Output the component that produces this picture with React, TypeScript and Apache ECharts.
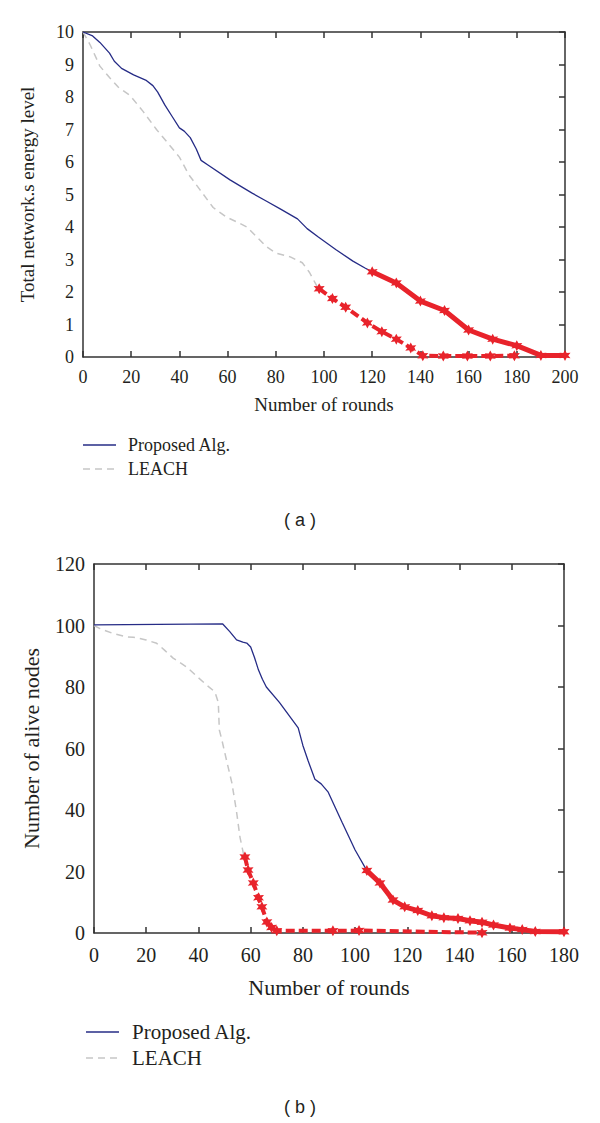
import React, { useEffect, useRef } from "react";
import * as echarts from "echarts";

// ---------- Chart (a): total network energy ----------
const roundsTicksA = [0, 20, 40, 60, 80, 100, 120, 140, 160, 180, 200];
const energyTicks = [0, 1, 2, 3, 4, 5, 6, 7, 8, 9, 10];

const proposedA: [number, number][] = [
  [0, 10], [4, 9.88], [7, 9.68], [11, 9.35], [13, 9.1], [16, 8.88], [21, 8.68],
  [26, 8.52], [29, 8.35], [31, 8.15], [34, 7.75], [37, 7.4], [40, 7.05], [42, 6.95],
  [44.5, 6.75], [47, 6.4], [49, 6.05], [52, 5.9], [61, 5.45], [70, 5.05], [76, 4.8],
  [82, 4.55], [89, 4.25], [93, 3.95], [97.5, 3.7], [105, 3.3], [112, 2.95], [117, 2.74],
  [120, 2.62],
];
const proposedAEnd: [number, number][] = [
  [120, 2.62], [130, 2.28], [140, 1.72], [150, 1.43], [160, 0.83], [170, 0.55],
  [180, 0.35], [190, 0.05], [200, 0.05],
];
const leachA: [number, number][] = [
  [0, 10], [3, 9.6], [7, 8.95], [11, 8.6], [14.7, 8.3], [19.5, 8.05], [25, 7.55],
  [30.5, 7.0], [35, 6.6], [40, 6.15], [44, 5.6], [48.5, 5.15], [54, 4.6], [59.6, 4.3],
  [64, 4.15], [68, 4.0], [72, 3.7], [76, 3.4], [80, 3.2], [86, 3.08], [91, 2.9],
  [94, 2.6], [97.5, 2.12],
];
const leachAEnd: [number, number][] = [
  [98, 2.1], [103.5, 1.8], [109, 1.53], [118, 1.05], [124, 0.78], [130, 0.55],
  [136, 0.28], [141, 0.04], [149.5, 0.03], [159.5, 0.03], [169, 0.03], [179, 0.04],
];

// ---------- Chart (b): alive nodes ----------
const roundsTicksB = [0, 20, 40, 60, 80, 100, 120, 140, 160, 180];
const nodesTicks = [0, 20, 40, 60, 80, 100, 120];

const proposedB: [number, number][] = [
  [0, 100.2], [49.3, 100.5], [52, 98], [54.6, 95.3], [57, 94.6], [58.5, 94.3], [60, 93],
  [61.5, 89.5], [63, 85.5], [64.5, 82.5], [66, 80], [71, 75], [78.2, 66.7], [80, 61],
  [82, 56], [84.6, 50], [87, 48.5], [89.7, 45.8], [95, 36], [100, 27], [104.5, 20.3],
];
const proposedBEnd: [number, number][] = [
  [104.5, 20.3], [109.5, 16.3], [114.5, 10.7], [119, 8.5], [124, 7.3], [129.4, 5.6],
  [134, 5.0], [139.4, 4.7], [144, 4.0], [148.6, 3.5], [153, 2.6], [159.3, 1.6],
  [164, 1.1], [169, 0.5], [180, 0.4],
];
const leachB: [number, number][] = [
  [0, 100], [2.3, 99], [7, 97.5], [12.4, 96.3], [15, 96.2], [20, 95.3], [24, 94.2],
  [27, 92], [30.3, 89.4], [35.5, 86.5], [40, 83], [43.2, 80.6], [46.3, 78.4],
  [47.6, 75], [48, 66], [49, 62.7], [50.8, 56], [52.8, 48.8], [54.5, 40], [55.9, 31.2],
  [57.5, 24.7],
];
const leachBEnd: [number, number][] = [
  [57.8, 24.7], [59, 20.5], [61, 16.3], [63, 11.5], [64.3, 8.5], [66.2, 3.6],
  [68, 1.8], [70, 0.7], [91.5, 0.7], [101.5, 0.8], [148.6, 0.1],
];

const legendNames = ["Proposed Alg.", "LEACH"];
const axisTitles = {
  xA: "Number of rounds",
  yA: "Total network.s energy level",
  xB: "Number of rounds",
  yB: "Number of alive nodes",
};
const captions = ["( a )", "( b )"];

const BLUE = "#262c86";
const GRAY = "#c6c6c6";
const RED = "#e8232b";
const AXIS = "#333333";
const TEXT = "#231f20";
const SERIF = "'Liberation Serif', 'DejaVu Serif', serif";
const SANS = "'Liberation Sans', Arial, sans-serif";
const STAR =
  "path://M0,-10 L2.6,-4.5 L8.7,-5 L5.2,0 L8.7,5 L2.6,4.5 L0,10 L-2.6,4.5 L-8.7,5 L-5.2,0 L-8.7,-5 L-2.6,-4.5 Z";

function mainX(gridIndex: number, max: number, fontSize: number, name: string, nameSize: number, nameGap: number, margin: number) {
  return {
    type: "value",
    gridIndex,
    position: "bottom",
    min: 0,
    max,
    interval: 20,
    name,
    nameLocation: "middle",
    nameGap,
    nameTextStyle: { fontFamily: SERIF, fontSize: nameSize, color: TEXT },
    axisLine: { show: true, onZero: false, lineStyle: { color: AXIS, width: 1.5 } },
    axisTick: { show: true, inside: true, length: 6, lineStyle: { color: AXIS, width: 1.5 } },
    axisLabel: { fontFamily: SERIF, fontSize, color: TEXT, margin },
    splitLine: { show: false },
  };
}
function mirrorX(gridIndex: number, max: number) {
  return {
    type: "value",
    gridIndex,
    position: "top",
    min: 0,
    max,
    interval: 20,
    axisLine: { show: true, onZero: false, lineStyle: { color: AXIS, width: 1.5 } },
    axisTick: { show: true, inside: true, length: 6, lineStyle: { color: AXIS, width: 1.5 } },
    axisLabel: { show: false },
    splitLine: { show: false },
  };
}
function mainY(gridIndex: number, max: number, interval: number, fontSize: number, name: string, nameSize: number, nameGap: number, margin: number) {
  return {
    type: "value",
    gridIndex,
    position: "left",
    min: 0,
    max,
    interval,
    name,
    nameLocation: "middle",
    nameGap,
    nameRotate: 90,
    nameTextStyle: { fontFamily: SERIF, fontSize: nameSize, color: TEXT },
    axisLine: { show: true, onZero: false, lineStyle: { color: AXIS, width: 1.5 } },
    axisTick: { show: false },
    axisLabel: { fontFamily: SERIF, fontSize, color: TEXT, margin },
    splitLine: { show: false },
  };
}
function mirrorY(gridIndex: number, max: number, interval: number) {
  return {
    type: "value",
    gridIndex,
    position: "right",
    min: 0,
    max,
    interval,
    axisLine: { show: true, onZero: false, lineStyle: { color: AXIS, width: 1.5 } },
    axisTick: { show: true, inside: true, length: 6, lineStyle: { color: AXIS, width: 1.5 } },
    axisLabel: { show: false },
    splitLine: { show: false },
  };
}

function baseLine(name: string, data: [number, number][], xi: number, yi: number, color: string, width: number, dashed: boolean) {
  return {
    type: "line",
    name,
    data,
    xAxisIndex: xi,
    yAxisIndex: yi,
    symbol: "none",
    showSymbol: false,
    smooth: false,
    lineStyle: { color, width, type: dashed ? [7, 5] : "solid" },
    itemStyle: { color },
    z: 2,
  };
}
function redLine(name: string, data: [number, number][], xi: number, yi: number, width: number, dashed: boolean) {
  return {
    type: "line",
    name,
    data,
    xAxisIndex: xi,
    yAxisIndex: yi,
    symbol: STAR,
    symbolSize: 11,
    showSymbol: true,
    lineStyle: { color: RED, width, type: dashed ? [9, 4] : "solid" },
    itemStyle: { color: RED, borderWidth: 0 },
    z: 3,
  };
}

// legend block drawn as graphic (line sample + label)
function legendBlock(x: number, y: number, gap: number, lineW: number, textX: number, fontSize: number) {
  return [
    {
      type: "line",
      shape: { x1: x, y1: y, x2: x + lineW, y2: y },
      style: { stroke: BLUE, lineWidth: 1.5 },
    },
    {
      type: "text",
      x: textX,
      y,
      style: { text: legendNames[0], fontFamily: SERIF, fontSize, fill: TEXT, textVerticalAlign: "middle" },
    },
    {
      type: "line",
      shape: { x1: x, y1: y + gap, x2: x + lineW, y2: y + gap },
      style: { stroke: GRAY, lineWidth: 1.5, lineDash: [7, 5] },
    },
    {
      type: "text",
      x: textX,
      y: y + gap,
      style: { text: legendNames[1], fontFamily: SERIF, fontSize, fill: TEXT, textVerticalAlign: "middle" },
    },
  ];
}

export default function App() {
  const ref = useRef<HTMLDivElement>(null);
  useEffect(() => {
    if (!ref.current) return;
    const chart = echarts.init(ref.current, undefined, { renderer: "svg" });
    chart.setOption({
      animation: false,
      backgroundColor: "#ffffff",
      grid: [
        { left: 83, top: 32, width: 482, height: 325, containLabel: false },
        { left: 94, top: 564, width: 470, height: 369, containLabel: false },
      ],
      xAxis: [
        mainX(0, 200, 18, axisTitles.xA, 19, 38, 11),
        mirrorX(0, 200),
        mainX(1, 180, 20, axisTitles.xB, 22, 43, 12),
        mirrorX(1, 180),
      ],
      yAxis: [
        mainY(0, 10, 1, 18, axisTitles.yA, 19, 46, 9),
        mirrorY(0, 10, 1),
        mainY(1, 120, 20, 20, axisTitles.yB, 22, 52, 9),
        mirrorY(1, 120, 20),
      ],
      graphic: [
        ...legendBlock(83, 445, 24, 33, 128, 18),
        ...legendBlock(86, 1032, 26, 33, 132, 21),
        {
          type: "text",
          x: 300,
          y: 520,
          style: {
            text: captions[0],
            fontFamily: SANS,
            fontSize: 18,
            fill: TEXT,
            textAlign: "center",
            textVerticalAlign: "middle",
          },
        },
        {
          type: "text",
          x: 300,
          y: 1107,
          style: {
            text: captions[1],
            fontFamily: SANS,
            fontSize: 18,
            fill: TEXT,
            textAlign: "center",
            textVerticalAlign: "middle",
          },
        },
      ],
      series: [
        baseLine("LEACH", leachA, 0, 0, GRAY, 1.5, true),
        baseLine("Proposed Alg.", proposedA, 0, 0, BLUE, 1.3, false),
        redLine("Proposed Alg. end (a)", proposedAEnd, 0, 0, 5, false),
        redLine("LEACH end (a)", leachAEnd, 0, 0, 4, true),
        baseLine("LEACH", leachB, 2, 2, GRAY, 1.5, true),
        baseLine("Proposed Alg.", proposedB, 2, 2, BLUE, 1.3, false),
        redLine("Proposed Alg. end (b)", proposedBEnd, 2, 2, 5, false),
        redLine("LEACH end (b)", leachBEnd, 2, 2, 4, true),
      ],
    });
    return () => chart.dispose();
  }, []);
  return (
    <div
      ref={ref}
      style={{ position: "fixed", left: 0, top: 0, width: 600, height: 1123, background: "#fff" }}
    />
  );
}
